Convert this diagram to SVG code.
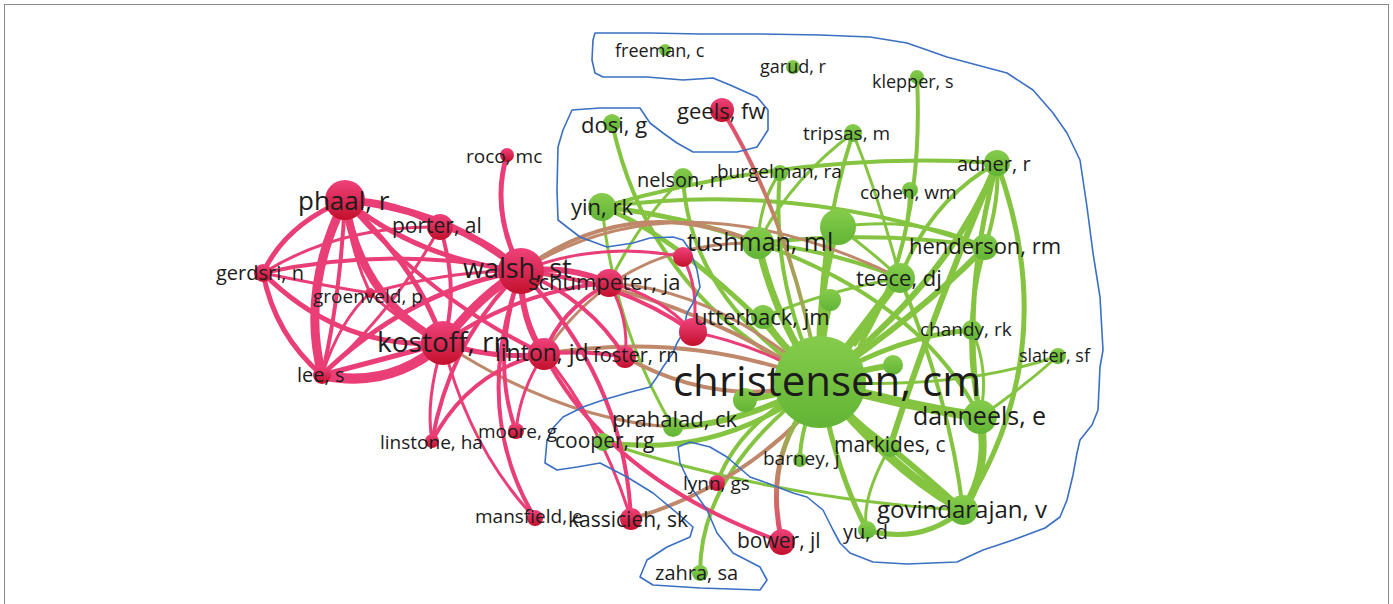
<svg xmlns="http://www.w3.org/2000/svg" width="1393" height="604" viewBox="0 0 1393 604">
<defs>
<linearGradient id="rn" x1="0" y1="0" x2="0" y2="1"><stop offset="0" stop-color="#f0427c"/><stop offset="1" stop-color="#c3102c"/></linearGradient>
<linearGradient id="gn" x1="0" y1="0" x2="0" y2="1"><stop offset="0" stop-color="#86cc4c"/><stop offset="1" stop-color="#62b435"/></linearGradient>
<linearGradient id="geelsG" gradientUnits="userSpaceOnUse" x1="722" y1="110" x2="820" y2="382"><stop offset="0" stop-color="#e8436f"/><stop offset="0.45" stop-color="#b98e63"/><stop offset="1" stop-color="#86c441"/></linearGradient>
<linearGradient id="bowerG" gradientUnits="userSpaceOnUse" x1="782" y1="542" x2="800" y2="415"><stop offset="0" stop-color="#e8436f"/><stop offset="0.6" stop-color="#b98e63"/><stop offset="1" stop-color="#86c441"/></linearGradient>
</defs>
<style>
.r{fill:none;stroke:#ea3e76;stroke-linecap:round}
.g{fill:none;stroke:#84c441;stroke-linecap:round}
.b{fill:none;stroke:#c0886a;stroke-linecap:round}
.rn{fill:url(#rn)}
.gn{fill:url(#gn)}
text{font-family:"Open Sans","Noto Sans","DejaVu Sans",sans-serif;fill:#1c1c1c}
.outline{fill:none;stroke:#3a6fc2;stroke-width:1.6;stroke-linejoin:round}
</style>
<rect x="0" y="0" width="1393" height="604" fill="#ffffff"/>
<rect x="4.5" y="4.5" width="1384" height="620" fill="none" stroke="#8a8a8a" stroke-width="1"/>

<g id="connectors">
<!-- green edges -->
<path class="g" stroke-width="4" d="M602,207 Q800,150 997,163"/>
<path class="g" stroke-width="4" d="M602,207 Q800,180 985,247"/>
<path class="g" stroke-width="5" d="M602,207 Q680,215 758,243"/>
<path class="g" stroke-width="3" d="M602,207 Q615,330 673,427"/>
<path class="g" stroke-width="3" d="M683,178 Q640,220 609,283"/>
<path class="g" stroke-width="7" d="M820,382 Q775,320 758,243"/>
<path class="g" stroke-width="6" d="M820,382 Q815,300 838,227"/>
<path class="g" stroke-width="8" d="M820,382 Q865,325 900,278"/>
<path class="g" stroke-width="6" d="M820,382 Q925,310 985,247"/>
<path class="g" stroke-width="6" d="M820,382 Q950,280 997,163"/>
<path class="g" stroke-width="4" d="M820,382 Q815,250 853,133"/>
<path class="g" stroke-width="4" d="M820,382 Q770,280 780,173"/>
<path class="g" stroke-width="4" d="M917,77 Q925,240 860,345"/>
<path class="g" stroke-width="3" d="M910,190 Q905,280 855,345"/>
<path class="g" stroke-width="5" d="M820,382 Q900,335 972,330"/>
<path class="g" stroke-width="3" d="M820,382 Q960,390 1058,356"/>
<path class="g" stroke-width="10" d="M820,382 Q900,405 980,417"/>
<path class="g" stroke-width="9" d="M820,382 Q890,470 963,510"/>
<path class="g" stroke-width="6" d="M820,382 Q855,425 890,447"/>
<path class="g" stroke-width="5" d="M820,382 Q835,470 867,530"/>
<path class="g" stroke-width="6" d="M820,382 Q740,425 673,427"/>
<path class="g" stroke-width="5" d="M820,382 Q720,460 603,442"/>
<path class="g" stroke-width="5" d="M820,382 Q690,240 602,207"/>
<path class="g" stroke-width="4" d="M820,382 Q650,300 612,123"/>
<path class="g" stroke-width="4" d="M820,382 Q690,300 683,178"/>
<path class="g" stroke-width="4" d="M820,382 Q740,420 717,483"/>
<path class="g" stroke-width="4" d="M820,382 Q700,470 700,573"/>
<path class="g" stroke-width="7" d="M820,382 Q780,345 763,317"/>
<path class="g" stroke-width="7" d="M820,382 Q820,340 830,300"/>
<path class="g" stroke-width="6" d="M820,382 Q860,370 893,365"/>
<path class="g" stroke-width="6" d="M820,382 Q780,395 745,400"/>
<path class="g" stroke-width="4" d="M820,382 Q800,430 800,460"/>
<path class="g" stroke-width="4" d="M758,243 Q830,250 900,278"/>
<path class="g" stroke-width="4" d="M758,243 Q880,230 985,247"/>
<path class="g" stroke-width="3" d="M853,133 Q790,180 758,243"/>
<path class="g" stroke-width="3" d="M853,133 Q880,200 900,278"/>
<path class="g" stroke-width="3" d="M780,173 Q760,200 758,243"/>
<path class="g" stroke-width="5" d="M997,163 Q960,300 980,417"/>
<path class="g" stroke-width="5" d="M997,163 Q1065,350 963,510"/>
<path class="g" stroke-width="4" d="M997,163 Q930,200 900,278"/>
<path class="g" stroke-width="6" d="M997,163 Q930,320 890,447"/>
<path class="g" stroke-width="4" d="M985,247 Q960,330 980,417"/>
<path class="g" stroke-width="8" d="M980,417 Q990,470 963,510"/>
<path class="g" stroke-width="6" d="M890,447 Q930,480 963,510"/>
<path class="g" stroke-width="5" d="M867,530 Q920,545 963,510"/>
<path class="g" stroke-width="3" d="M972,330 Q990,370 980,417"/>
<path class="g" stroke-width="3" d="M1058,356 Q1020,390 980,417"/>
<path class="g" stroke-width="4" d="M758,243 Q920,300 980,417"/>
<path class="g" stroke-width="4" d="M900,278 Q950,400 963,510"/>
<path class="g" stroke-width="3" d="M763,317 Q830,290 900,278"/>
<path class="g" stroke-width="3" d="M838,227 Q870,250 900,278"/>
<path class="g" stroke-width="3" d="M838,227 Q920,215 985,247"/>
<path class="g" stroke-width="4" d="M985,247 Q1000,200 997,163"/>
<path class="g" stroke-width="3" d="M890,447 Q860,500 867,530"/>
<path class="g" stroke-width="3" d="M603,442 Q780,500 963,510"/>
<!-- brown (mixed) edges -->
<path class="b" stroke-width="4" d="M521,271 Q680,290 820,382"/>
<path class="b" stroke-width="4" d="M521,271 Q630,190 758,243"/>
<path class="b" stroke-width="4" d="M544,354 Q690,330 820,382"/>
<path class="b" stroke-width="4" d="M625,357 Q720,410 820,382"/>
<path class="b" stroke-width="3" d="M609,283 Q720,290 820,382"/>
<path class="b" stroke-width="3" d="M443,343 Q560,420 673,427"/>
<path class="b" stroke-width="3" d="M521,271 Q680,170 900,278"/>
<path class="b" stroke-width="3" d="M544,354 Q620,240 758,243"/>
<path class="b" stroke-width="4" d="M631,519 Q730,490 800,420"/>
<path fill="none" stroke="url(#geelsG)" stroke-width="4" stroke-linecap="round" d="M722,110 Q790,220 820,382"/>
<path fill="none" stroke="url(#bowerG)" stroke-width="5" stroke-linecap="round" d="M782,542 Q765,470 800,415"/>
<!-- red edges -->
<path class="r" stroke-width="6" d="M345,200 Q395,200 440,227"/>
<path class="r" stroke-width="7" d="M345,200 Q450,210 521,271"/>
<path class="r" stroke-width="5" d="M345,200 Q420,260 521,271"/>
<path class="r" stroke-width="5" d="M345,200 Q285,225 263,273"/>
<path class="r" stroke-width="9" d="M345,200 Q300,290 322,375"/>
<path class="r" stroke-width="4" d="M345,200 Q340,300 322,375"/>
<path class="r" stroke-width="8" d="M345,200 Q360,300 443,343"/>
<path class="r" stroke-width="5" d="M345,200 Q420,270 443,343"/>
<path class="r" stroke-width="3" d="M345,200 Q350,250 370,293"/>
<path class="r" stroke-width="4" d="M345,200 Q430,300 544,354"/>
<path class="r" stroke-width="5" d="M263,273 Q275,335 322,375"/>
<path class="r" stroke-width="5" d="M263,273 Q340,350 443,343"/>
<path class="r" stroke-width="4" d="M263,273 Q390,245 521,271"/>
<path class="r" stroke-width="3" d="M263,273 Q340,225 440,227"/>
<path class="r" stroke-width="3" d="M263,273 Q320,285 370,293"/>
<path class="r" stroke-width="10" d="M322,375 Q390,390 443,343"/>
<path class="r" stroke-width="5" d="M322,375 Q380,360 443,343"/>
<path class="r" stroke-width="5" d="M322,375 Q410,290 521,271"/>
<path class="r" stroke-width="3" d="M322,375 Q395,310 440,227"/>
<path class="r" stroke-width="3" d="M322,375 Q340,320 370,293"/>
<path class="r" stroke-width="3" d="M370,293 Q410,330 443,343"/>
<path class="r" stroke-width="3" d="M370,293 Q450,270 521,271"/>
<path class="r" stroke-width="5" d="M440,227 Q485,235 521,271"/>
<path class="r" stroke-width="4" d="M440,227 Q460,290 443,343"/>
<path class="r" stroke-width="9" d="M443,343 Q480,295 521,271"/>
<path class="r" stroke-width="5" d="M443,343 Q495,360 544,354"/>
<path class="r" stroke-width="4" d="M443,343 Q520,290 609,283"/>
<path class="r" stroke-width="3" d="M443,343 Q470,450 535,518"/>
<path class="r" stroke-width="3" d="M443,343 Q425,400 432,441"/>
<path class="r" stroke-width="5" d="M521,271 Q490,210 507,155"/>
<path class="r" stroke-width="6" d="M521,271 Q570,265 609,283"/>
<path class="r" stroke-width="6" d="M521,271 Q520,320 544,354"/>
<path class="r" stroke-width="4" d="M521,271 Q590,300 625,357"/>
<path class="r" stroke-width="4" d="M521,271 Q620,280 693,332"/>
<path class="r" stroke-width="3" d="M521,271 Q600,240 683,257"/>
<path class="r" stroke-width="4" d="M521,271 Q450,340 432,441"/>
<path class="r" stroke-width="4" d="M521,271 Q490,360 516,431"/>
<path class="r" stroke-width="4" d="M521,271 Q470,410 535,518"/>
<path class="r" stroke-width="4" d="M521,271 Q625,380 631,519"/>
<path class="r" stroke-width="4" d="M544,354 Q470,370 432,441"/>
<path class="r" stroke-width="3" d="M544,354 Q520,390 516,431"/>
<path class="r" stroke-width="4" d="M544,354 Q610,480 782,542"/>
<path class="r" stroke-width="4" d="M544,354 Q585,350 625,357"/>
<path class="r" stroke-width="3" d="M544,354 Q600,420 631,519"/>
<path class="r" stroke-width="4" d="M609,283 Q560,310 544,354"/>
<path class="r" stroke-width="3" d="M609,283 Q660,295 693,332"/>
<path class="r" stroke-width="3" d="M609,283 Q630,320 625,357"/>
<path class="r" stroke-width="3" d="M683,257 Q700,290 693,332"/>
<path class="r" stroke-width="3" d="M693,332 Q760,345 820,382"/>
</g>

<path id="outline" class="outline" d="M595,33 L650,33 L700,34 L760,34 L820,35 L870,37 L907,43 L947,57 L1007,73 L1033,90 L1053,113 L1067,133 L1080,160 L1083,180 L1087,207 L1093,253 L1100,297 L1103,350 L1100,367 L1098,410 L1092,425 L1080,440 L1077,453 L1073,475 L1067,500 L1060,517 L1045,528 L1013,540 L983,550 L957,562 L907,564 L873,562 L850,553 L840,543 L833,530 L823,510 L807,497 L793,493 L767,483 L750,477 L727,457 L710,447 L690,442 L678,447 L680,463 L693,490 L707,510 L717,533 L733,553 L760,567 L767,580 L760,590 L700,588 L653,585 L640,577 L647,560 L667,547 L690,537 L693,527 L677,513 L653,493 L627,477 L600,463 L577,467 L557,470 L545,463 L547,440 L553,428 L563,417 L583,407 L603,400 L627,393 L650,387 L657,377 L663,367 L673,353 L677,343 L683,333 L687,313 L693,303 L700,287 L697,270 L690,250 L683,240 L673,237 L650,238 L633,243 L607,247 L580,237 L567,227 L558,220 L557,190 L558,147 L563,130 L572,110 L600,108 L640,108 L650,123 L663,133 L677,143 L693,152 L737,152 L757,147 L768,130 L768,110 L757,97 L730,85 L713,78 L683,80 L647,77 L603,77 L595,73 L592,60 L593,40 Z"/>

<!-- unlabeled nodes -->
<g id="n-red-a"><circle class="rn" cx="683" cy="257" r="10"/></g>
<g id="n-red-b"><circle class="rn" cx="693" cy="332" r="14"/></g>
<g id="n-green-a"><circle class="gn" cx="838" cy="227" r="18"/></g>
<g id="n-green-b"><circle class="gn" cx="830" cy="300" r="11"/></g>
<g id="n-green-c"><circle class="gn" cx="893" cy="365" r="10"/></g>
<g id="n-green-d"><circle class="gn" cx="745" cy="400" r="12"/></g>

<!-- red cluster -->
<g id="n-phaal"><circle class="rn" cx="345" cy="200" r="20"/><text x="298" y="210" font-size="26">phaal, r</text></g>
<g id="n-porter"><circle class="rn" cx="440" cy="227" r="13"/><text x="392" y="233" font-size="21">porter, al</text></g>
<g id="n-gerdsri"><circle class="rn" cx="263" cy="273" r="9"/><text x="216" y="280" font-size="20">gerdsri, n</text></g>
<g id="n-groenveld"><circle class="rn" cx="370" cy="293" r="5"/><text x="313" y="303" font-size="19">groenveld, p</text></g>
<g id="n-lee"><circle class="rn" cx="322" cy="375" r="9"/><text x="297" y="382" font-size="20">lee, s</text></g>
<g id="n-kostoff"><circle class="rn" cx="443" cy="343" r="22"/><text x="377" y="352" font-size="28">kostoff, rn</text></g>
<g id="n-walsh"><circle class="rn" cx="521" cy="271" r="23"/><text x="463" y="278" font-size="27">walsh, st</text></g>
<g id="n-roco"><circle class="rn" cx="507" cy="155" r="7"/><text x="466" y="163" font-size="19">roco, mc</text></g>
<g id="n-schumpeter"><circle class="rn" cx="609" cy="283" r="14"/><text x="528" y="290" font-size="22">schumpeter, ja</text></g>
<g id="n-linton"><circle class="rn" cx="544" cy="354" r="16"/><text x="495" y="361" font-size="23">linton, jd</text></g>
<g id="n-foster"><circle class="rn" cx="625" cy="357" r="11"/><text x="593" y="362" font-size="20">foster, rn</text></g>
<g id="n-moore"><circle class="rn" cx="516" cy="431" r="8"/><text x="478" y="438" font-size="19">moore, g</text></g>
<g id="n-linstone"><circle class="rn" cx="432" cy="441" r="7"/><text x="380" y="449" font-size="19">linstone, ha</text></g>
<g id="n-mansfield"><circle class="rn" cx="535" cy="518" r="8"/><text x="475" y="523" font-size="19">mansfield, e</text></g>
<g id="n-kassicieh"><circle class="rn" cx="631" cy="519" r="11"/><text x="568" y="527" font-size="21">kassicieh, sk</text></g>
<g id="n-lynn"><circle class="rn" cx="717" cy="483" r="8"/><text x="683" y="490" font-size="19">lynn, gs</text></g>
<g id="n-bower"><circle class="rn" cx="782" cy="542" r="13"/><text x="737" y="548" font-size="21">bower, jl</text></g>
<g id="n-geels"><circle class="rn" cx="722" cy="110" r="12"/><text x="677" y="119" font-size="22">geels, fw</text></g>

<!-- green cluster -->
<g id="n-freeman"><circle class="gn" cx="665" cy="50" r="6"/><text x="615" y="57" font-size="18">freeman, c</text></g>
<g id="n-garud"><circle class="gn" cx="793" cy="67" r="7"/><text x="760" y="73" font-size="18">garud, r</text></g>
<g id="n-klepper"><circle class="gn" cx="917" cy="77" r="7"/><text x="872" y="88" font-size="18">klepper, s</text></g>
<g id="n-tripsas"><circle class="gn" cx="853" cy="133" r="9"/><text x="803" y="140" font-size="19">tripsas, m</text></g>
<g id="n-dosi"><circle class="gn" cx="612" cy="123" r="9"/><text x="581" y="133" font-size="22">dosi, g</text></g>
<g id="n-nelson"><circle class="gn" cx="683" cy="178" r="10"/><text x="637" y="187" font-size="20">nelson, rr</text></g>
<g id="n-burgelman"><circle class="gn" cx="780" cy="173" r="8"/><text x="717" y="178" font-size="19">burgelman, ra</text></g>
<g id="n-adner"><circle class="gn" cx="997" cy="163" r="13"/><text x="957" y="171" font-size="20">adner, r</text></g>
<g id="n-cohen"><circle class="gn" cx="910" cy="190" r="8"/><text x="860" y="199" font-size="19">cohen, wm</text></g>
<g id="n-yin"><circle class="gn" cx="602" cy="207" r="14"/><text x="571" y="215" font-size="22">yin, rk</text></g>
<g id="n-henderson"><circle class="gn" cx="985" cy="247" r="13"/><text x="909" y="254" font-size="22">henderson, rm</text></g>
<g id="n-teece"><circle class="gn" cx="900" cy="278" r="15"/><text x="856" y="286" font-size="22">teece, dj</text></g>
<g id="n-tushman"><circle class="gn" cx="758" cy="243" r="16"/><text x="687" y="251" font-size="25">tushman, ml</text></g>
<g id="n-utterback"><circle class="gn" cx="763" cy="317" r="12"/><text x="694" y="325" font-size="22">utterback, jm</text></g>
<g id="n-chandy"><circle class="gn" cx="972" cy="330" r="10"/><text x="920" y="336" font-size="19">chandy, rk</text></g>
<g id="n-slater"><circle class="gn" cx="1058" cy="356" r="8"/><text x="1019" y="362" font-size="18">slater, sf</text></g>
<g id="n-prahalad"><circle class="gn" cx="673" cy="427" r="10"/><text x="612" y="427" font-size="22">prahalad, ck</text></g>
<g id="n-cooper"><circle class="gn" cx="603" cy="442" r="9"/><text x="555" y="448" font-size="21">cooper, rg</text></g>
<g id="n-barney"><circle class="gn" cx="800" cy="460" r="7"/><text x="763" y="465" font-size="19">barney, j</text></g>
<g id="n-markides"><circle class="gn" cx="890" cy="447" r="10"/><text x="834" y="452" font-size="21">markides, c</text></g>
<g id="n-danneels"><circle class="gn" cx="980" cy="417" r="17"/><text x="913" y="425" font-size="25">danneels, e</text></g>
<g id="n-govindarajan"><circle class="gn" cx="963" cy="510" r="15"/><text x="877" y="518" font-size="24">govindarajan, v</text></g>
<g id="n-yu"><circle class="gn" cx="867" cy="530" r="9"/><text x="843" y="539" font-size="20">yu, d</text></g>
<g id="n-zahra"><circle class="gn" cx="700" cy="573" r="8"/><text x="655" y="580" font-size="20">zahra, sa</text></g>
<g id="n-christensen"><circle class="gn" cx="820" cy="382" r="46"/><text x="673" y="396" font-size="42">christensen, cm</text></g>
</svg>
